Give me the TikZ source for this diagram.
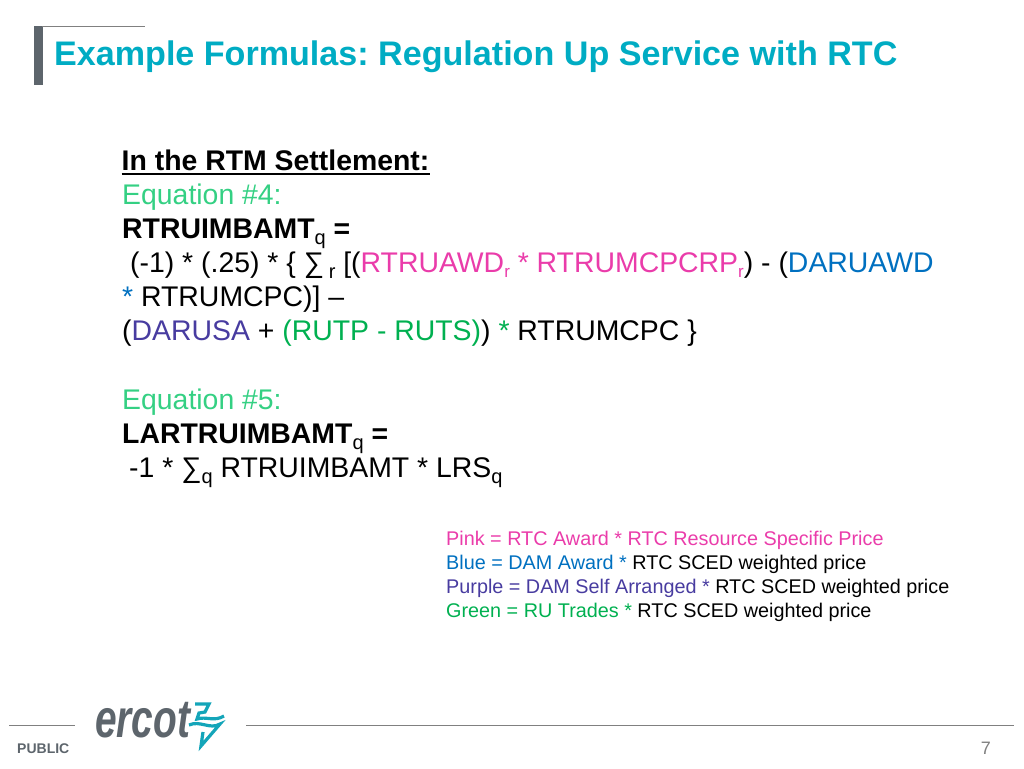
\documentclass[tikz,border=0pt]{standalone}
\usepackage{fontspec}
\setmainfont{Liberation Sans}
\frenchspacing
\definecolor{titleteal}{RGB}{0,172,195}
\definecolor{logoTeal}{RGB}{20,165,185}
\definecolor{barGrey}{RGB}{93,101,108}
\definecolor{ruleGrey}{RGB}{128,128,128}
\definecolor{eqGreen}{RGB}{52,208,131}
\definecolor{rtcPink}{RGB}{234,60,170}
\definecolor{damBlue}{RGB}{0,112,192}
\definecolor{selfPurple}{RGB}{72,60,160}
\definecolor{tradeGreen}{RGB}{0,176,80}
\newcommand{\lowsub}[1]{\raisebox{-6pt}{\fontsize{20}{20}\selectfont\normalfont #1}}
\newcommand{\rsub}[1]{\raisebox{-5pt}{\fontsize{17}{17}\selectfont #1}}
\begin{document}
\begin{tikzpicture}[x=1pt,y=-1pt]
        \useasboundingbox (0,0) rectangle (1024,768);

        % title corner
        \fill[barGrey] (34,26) rectangle (42.5,85);
        \draw[ruleGrey,line width=1pt] (42,26.5) -- (145,26.5);
        \node[anchor=base west,inner sep=0pt,text=titleteal,font=\fontsize{34.1}{34.1}\selectfont\bfseries] (title) at (54,65) {Example Formulas: Regulation Up Service with RTC};

        % formula lines
        \begin{scope}[every node/.style={anchor=base west,inner sep=0pt,font=\fontsize{28.4}{28.4}\selectfont}]
          \node (head)  at (121.5,170) {\bfseries In the RTM Settlement:};
          \node[text=eqGreen] (eqfour) at (122,204) {Equation \#4:};
          \node (amt)   at (122,238) {\bfseries RTRUIMBAMT\lowsub{q} =};
          \node (lineA) at (130,272) {(-1) * (.25) * \{ ∑\,\lowsub{r} [(\textcolor{rtcPink}{RTRUAWD\rsub{r} * RTRUMCPCRP\rsub{r}}) - (\textcolor{damBlue}{DARUAWD}};
          \node (lineB) at (122,306) {\textcolor{damBlue}{*} RTRUMCPC)] –};
          \node (lineC) at (122,340) {(\textcolor{selfPurple}{DARUSA} + \textcolor{tradeGreen}{(RUTP - RUTS)}) \textcolor{tradeGreen}{*} RTRUMCPC \}};
          \node[text=eqGreen] (eqfive) at (122,409) {Equation \#5:};
          \node (lar)   at (122,443) {\bfseries LARTRUIMBAMT\lowsub{q} =};
          \node (lineD) at (129,477) {-1 * ∑\lowsub{q} RTRUIMBAMT * LRS\lowsub{q}};
        \end{scope}
        \draw[line width=2pt] (head.base west)++(0,3.5) -- ++(308,0);

        % legend
        \begin{scope}[every node/.style={anchor=base west,inner sep=0pt,font=\fontsize{19.8}{19.8}\selectfont}]
          \node[text=rtcPink] (pink) at (446,545) {Pink = RTC Award * RTC Resource Specific Price};
          \node (blue)   at (446,569) {\textcolor{damBlue}{Blue = DAM Award *} RTC SCED weighted price};
          \node (purple) at (446,593) {\textcolor{selfPurple}{Purple = DAM Self Arranged *} RTC SCED weighted price};
          \node (green)  at (446,617) {\textcolor{tradeGreen}{Green = RU Trades *} RTC SCED weighted price};
        \end{scope}

        % footer
        \draw[ruleGrey,line width=1pt] (9,725) -- (75,725);
        \draw[ruleGrey,line width=1pt] (246,725) -- (1014,725);
        \node[anchor=base west,inner sep=0pt,text=barGrey,font=\fontsize{14}{14}\selectfont\bfseries] (public) at (17,753) {PUBLIC};
        \node[anchor=base west,inner sep=0pt,text=barGrey,xscale=0.72,font=\fontsize{54}{54}\selectfont\bfseries\itshape] (logo) at (95,737) {ercot};
        \draw[logoTeal,line width=3.2pt,line join=miter]
          (195,704) -- (209,704) -- (205,712) -- (199,713) -- (197,719)
          .. controls (206,716) and (214,722) .. (224,716);
        \draw[logoTeal,line width=3.2pt,line join=miter]
          (189,725) .. controls (200,720) and (210,730) .. (220,724) -- (201,746) -- (203,732);
        \node[anchor=base east,inner sep=0pt,text=ruleGrey,font=\fontsize{18}{18}\selectfont] (pagenum) at (991,754) {7};
\end{tikzpicture}
\end{document}
